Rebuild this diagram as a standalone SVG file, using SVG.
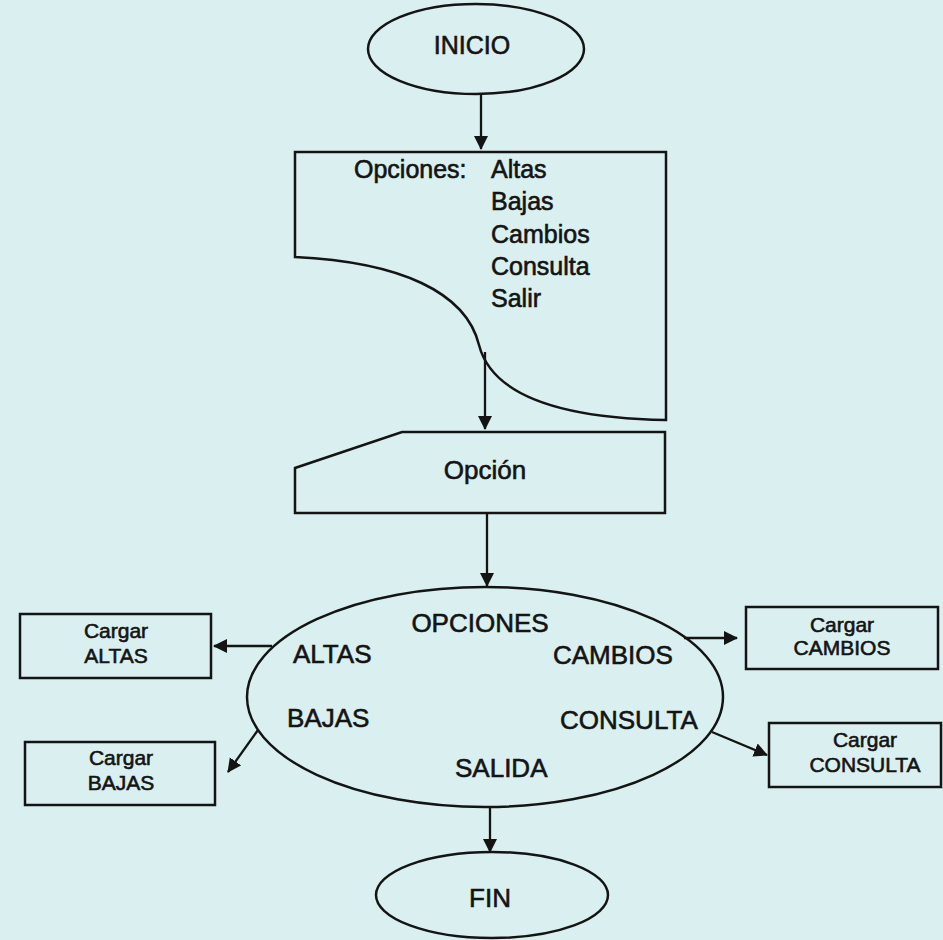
<svg xmlns="http://www.w3.org/2000/svg" width="943" height="940" viewBox="0 0 943 940">
  <style>
    .shape { fill: none; stroke: #141414; stroke-width: 2.5; }
    .conn { fill: none; stroke: #141414; stroke-width: 2.3; }
    .lbl { font-family: "Liberation Sans", Arial, sans-serif; fill: #141414; stroke: #141414; stroke-width: 0.6; }
    .big { font-size: 26px; }
    .mid { font-size: 25px; }
    .sm { font-size: 21px; }
  </style>
  <defs>
    <marker id="arr" markerUnits="userSpaceOnUse" markerWidth="16" markerHeight="16" refX="13" refY="7" orient="auto">
      <path d="M0,0 L14,7 L0,14 Z" fill="#141414"/>
    </marker>
  </defs>
  <rect x="0" y="0" width="943" height="940" fill="#daefef"/>

  <g id="connectors">
    <line class="conn" x1="481" y1="94" x2="481" y2="149" marker-end="url(#arr)"/>
    <line class="conn" x1="485" y1="352" x2="485" y2="429" marker-end="url(#arr)"/>
    <line class="conn" x1="487" y1="513" x2="487" y2="586" marker-end="url(#arr)"/>
    <line class="conn" x1="272" y1="646" x2="214" y2="646" marker-end="url(#arr)"/>
    <line class="conn" x1="258" y1="730" x2="228" y2="772" marker-end="url(#arr)"/>
    <line class="conn" x1="684" y1="638" x2="737" y2="638" marker-end="url(#arr)"/>
    <line class="conn" x1="712" y1="732" x2="767" y2="755" marker-end="url(#arr)"/>
    <line class="conn" x1="490" y1="808" x2="490" y2="852" marker-end="url(#arr)"/>
  </g>

  <g id="inicio">
    <ellipse class="shape" cx="476" cy="49" rx="108" ry="45"/>
    <text class="lbl mid" x="472" y="54" text-anchor="middle">INICIO</text>
  </g>

  <g id="opciones-doc">
    <path class="shape" d="M295,152 H666 V420 C560,418 492,395 479,345 C466,292 400,262 295,257 Z"/>
    <text class="lbl mid" x="354" y="178">Opciones:</text>
    <text class="lbl mid" x="491" y="178">Altas</text>
    <text class="lbl mid" x="491" y="210">Bajas</text>
    <text class="lbl mid" x="491" y="243">Cambios</text>
    <text class="lbl mid" x="491" y="275">Consulta</text>
    <text class="lbl mid" x="491" y="307">Salir</text>
  </g>

  <g id="opcion">
    <path class="shape" d="M402,432 H665 V513 H295 V468 Z"/>
    <text class="lbl big" x="485" y="479" text-anchor="middle">Opción</text>
  </g>

  <g id="menu">
    <ellipse class="shape" cx="485" cy="697" rx="238" ry="110"/>
    <text class="lbl big" x="480" y="632" text-anchor="middle">OPCIONES</text>
    <text class="lbl big" x="293" y="663">ALTAS</text>
    <text class="lbl big" x="553" y="664">CAMBIOS</text>
    <text class="lbl big" x="287" y="727">BAJAS</text>
    <text class="lbl big" x="560" y="729">CONSULTA</text>
    <text class="lbl big" x="455" y="777">SALIDA</text>
  </g>

  <g id="cargar-altas">
    <rect class="shape" x="20" y="614" width="191" height="64"/>
    <text class="lbl sm" x="116" y="638" text-anchor="middle">Cargar</text>
    <text class="lbl sm" x="116" y="663" text-anchor="middle">ALTAS</text>
  </g>

  <g id="cargar-bajas">
    <rect class="shape" x="25" y="742" width="190" height="63"/>
    <text class="lbl sm" x="121" y="765" text-anchor="middle">Cargar</text>
    <text class="lbl sm" x="121" y="790" text-anchor="middle">BAJAS</text>
  </g>

  <g id="cargar-cambios">
    <rect class="shape" x="746" y="607" width="192" height="62"/>
    <text class="lbl sm" x="842" y="632" text-anchor="middle">Cargar</text>
    <text class="lbl sm" x="842" y="655" text-anchor="middle">CAMBIOS</text>
  </g>

  <g id="cargar-consulta">
    <rect class="shape" x="769" y="723" width="172" height="64"/>
    <text class="lbl sm" x="865" y="747" text-anchor="middle">Cargar</text>
    <text class="lbl sm" x="865" y="772" text-anchor="middle">CONSULTA</text>
  </g>

  <g id="fin">
    <ellipse class="shape" cx="492" cy="895" rx="116" ry="43"/>
    <text class="lbl big" x="490" y="907" text-anchor="middle">FIN</text>
  </g>
</svg>
